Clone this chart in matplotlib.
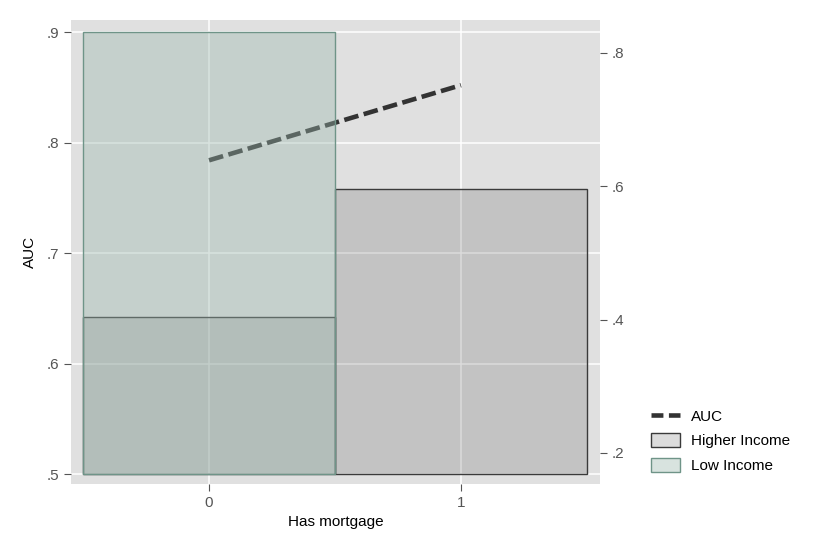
import matplotlib
matplotlib.use('Agg')
import matplotlib.pyplot as plt
from matplotlib.lines import Line2D
from matplotlib.patches import Patch

plt.rcParams['font.family'] = ['Liberation Sans', 'DejaVu Sans']

# data
mortgage = [0, 1]
auc = [0.784, 0.852]
higher_income = [0.404, 0.596]   # right axis
low_income = [0.8315, 0.0]       # right axis
bar_base = 0.1685

left_ticks = [0.5, 0.6, 0.7, 0.8, 0.9]
left_labels = ['.5', '.6', '.7', '.8', '.9']
right_ticks = [0.2, 0.4, 0.6, 0.8]
right_labels = ['.2', '.4', '.6', '.8']

bg = '#e0e0e0'
tick_col = '#555555'
hi_col = '#646464'
lo_col = '#9bb7ad'
lo_edge = '#6f9488'

fig = plt.figure(figsize=(8.3, 5.54), dpi=100)
ax = fig.add_axes([71/830, 70/554, 529/830, 464/554])
ax.set_facecolor(bg)
for s in ax.spines.values():
    s.set_visible(False)

ax.plot(mortgage, auc, color='#333333', lw=3.3, dashes=(3.2, 1.2), zorder=3)
ax.set_xlim(-0.548, 1.552)
ax.set_ylim(0.491, 0.911)
ax.set_xticks(mortgage)
ax.set_yticks(left_ticks)
ax.set_yticklabels(left_labels)
ax.grid(True, color='white', lw=1.1)
ax.set_axisbelow(True)
ax.tick_params(colors=tick_col, labelcolor=tick_col, labelsize=11, length=5, width=0.8)
ax.set_xlabel('Has mortgage', fontsize=11, labelpad=4)
ax.set_ylabel('AUC', fontsize=11, labelpad=7)

ax2 = ax.twinx()
ax2.patch.set_visible(False)
for s in ax2.spines.values():
    s.set_visible(False)
ax2.set_ylim(0.1535, 0.8495)
ax2.set_yticks(right_ticks)
ax2.set_yticklabels(right_labels)
ax2.tick_params(colors=tick_col, labelcolor=tick_col, labelsize=11, length=5, width=0.8)

hi_h = [v - bar_base for v in higher_income]
lo_h = [v - bar_base if v > 0 else 0 for v in low_income]
ax2.bar(mortgage, hi_h, width=1.0, bottom=bar_base, color=hi_col, alpha=0.226,
        edgecolor='none', zorder=1)
ax2.bar(mortgage, hi_h, width=1.0, bottom=bar_base, facecolor='none',
        edgecolor='#3a3a3a', lw=1.0, zorder=1)
ax2.bar(mortgage[:1], lo_h[:1], width=1.0, bottom=bar_base, color=lo_col, alpha=0.39,
        edgecolor='none', zorder=2)
ax2.bar(mortgage[:1], lo_h[:1], width=1.0, bottom=bar_base, facecolor='none',
        edgecolor=lo_edge, lw=1.0, zorder=2)

handles = [
    Line2D([], [], color='#333333', lw=3.3, dashes=(2.6, 1.2)),
    Patch(facecolor='#dcdcdc', edgecolor='#3a3a3a', lw=1.0),
    Patch(facecolor='#d8e3df', edgecolor=lo_edge, lw=1.0),
]
fig.legend(handles, ['AUC', 'Higher Income', 'Low Income'], loc='upper left',
           bbox_to_anchor=(637/830, 1 - 395/554), frameon=False, fontsize=11,
           handlelength=1.9, handleheight=1.0, labelspacing=0.62, handletextpad=0.72,
           borderpad=0.4)

fig.savefig('out.png', dpi=100)
